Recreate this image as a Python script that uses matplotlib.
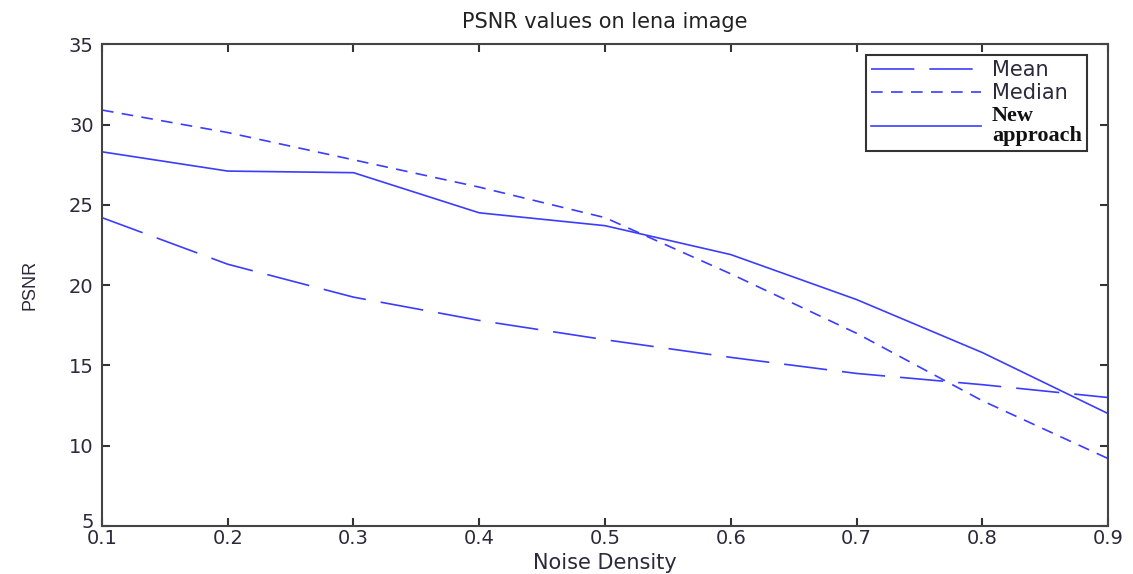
import matplotlib.pyplot as plt
import matplotlib.transforms as mtransforms

# DADOS ----------------------------------------------
noise = [0.1, 0.2, 0.3, 0.4, 0.5, 0.6, 0.7, 0.8, 0.9]
mean_psnr = [24.2, 21.3, 19.25, 17.8, 16.6, 15.5, 14.5, 13.8, 13.0]
median_psnr = [30.9, 29.5, 27.8, 26.1, 24.2, 20.7, 17.0, 12.8, 9.2]
new_psnr = [28.3, 27.1, 27.0, 24.5, 23.7, 21.9, 19.1, 15.8, 12.0]
# ----------------------------------------------------

plt.rcParams['font.family'] = ['DejaVu Sans']
color = '#3c3cff'
txt = '#2a2a3a'

fig = plt.figure(figsize=(11.33, 5.74), dpi=100)
ax = fig.add_axes([0.090, 0.0836, 0.888, 0.8394])

ax.plot(noise, mean_psnr, color=color, lw=1.2, dashes=(26, 9), label='Mean')
ax.plot(noise, median_psnr, color=color, lw=1.2, dashes=(7, 5), label='Median')
ax.plot(noise, new_psnr, color=color, lw=1.2, label='New\napproach')

ax.set_xlim(0.1, 0.9)
ax.set_ylim(5, 35)
ax.set_xticks(noise)
ax.set_xticklabels(['0.1', '0.2', '0.3', '0.4', '0.5', '0.6', '0.7', '0.8', '0.9'])
ax.set_yticks([5, 10, 15, 20, 25, 30, 35])
ax.tick_params(direction='in', length=6, width=1.5, labelsize=14, colors='#333333',
               labelcolor=txt, top=True, right=True, pad=2)
ax.tick_params(axis='y', pad=6)
for s in ax.spines.values():
    s.set_linewidth(1.5)
    s.set_color('#444444')

# sobe um pouco o rótulo "5" para não encostar no "0.1"
lbl5 = ax.get_yticklabels()[0]
lbl5.set_transform(lbl5.get_transform() +
                   mtransforms.ScaledTranslation(0, 4 / 72, fig.dpi_scale_trans))

ax.set_title('PSNR values on lena image', fontsize=15, color='#222222', pad=12)
ax.set_xlabel('Noise Density', fontsize=15, color=txt, labelpad=4)
ax.set_ylabel('PSNR', fontsize=13, color=txt, labelpad=22, family='Liberation Sans')

leg = ax.legend(loc='upper right', fancybox=False, edgecolor='#333333', framealpha=1,
                fontsize=15, handlelength=5.3, handletextpad=0.5, borderpad=0.25,
                labelspacing=0.15, bbox_to_anchor=(0.979, 0.978), borderaxespad=0)
leg.get_frame().set_linewidth(1.5)
for t in leg.get_texts():
    t.set_color(txt)
last = leg.get_texts()[2]
last.set_family('Liberation Serif')
last.set_weight('bold')
last.set_fontsize(16)
last.set_color('#111111')
last.set_linespacing(0.95)

fig.savefig('out.png', dpi=100)
